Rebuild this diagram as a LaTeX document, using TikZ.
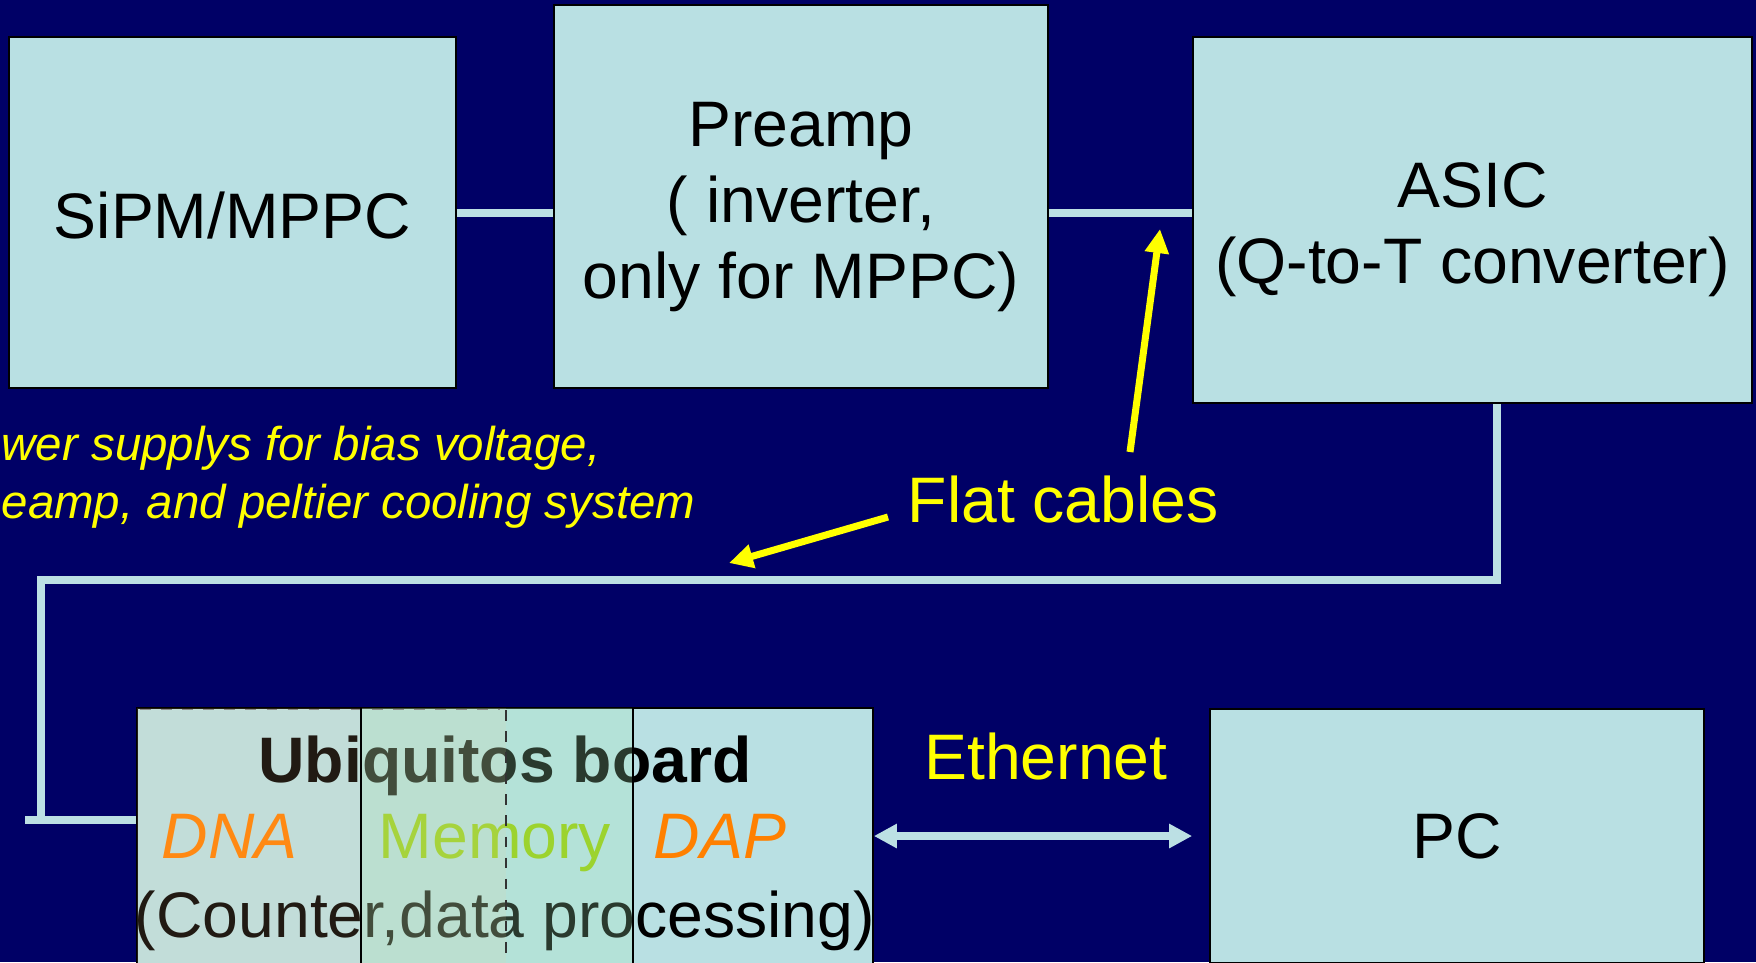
\documentclass[tikz,border=0pt]{standalone}
\usepackage{fontspec}
\setmainfont{Liberation Sans}
\usetikzlibrary{arrows.meta}
\definecolor{slidebg}{HTML}{000066}
\definecolor{boxfill}{HTML}{B9E0E3}
\definecolor{cablecol}{HTML}{BCE0E4}
\definecolor{notecol}{HTML}{FFFF00}
\definecolor{labelorange}{HTML}{FF8000}
\definecolor{labelgreen}{HTML}{99CC00}
\definecolor{tanlayer}{HTML}{FFCD96}
\definecolor{greenlayer}{HTML}{A8E8B8}
\newcommand{\bigtext}{\fontsize{18.3pt}{21.6pt}\selectfont}
\newcommand{\notetext}{\fontsize{13.5pt}{16.5pt}\selectfont\itshape}
\newcommand{\lowfirst}{\rule{0pt}{6.5mm}}
\tikzset{
  unit/.style={draw=black, line width=0.5pt, fill=boxfill, inner sep=0pt,
    align=center, font=\bigtext},
  cable/.style={cablecol, line width=0.8mm},
  pointer/.style={notecol, line width=0.7mm,
    -{Triangle[length=2.4mm, width=2.3mm]}},
  lanlink/.style={cablecol, line width=0.8mm,
    {Triangle[length=2.3mm, width=2.3mm]}-{Triangle[length=2.3mm, width=2.3mm]}},
  note/.style={inner sep=0pt, text=notecol, font=\notetext},
  yellowtag/.style={inner sep=0pt, text=notecol, font=\bigtext},
  boardtext/.style={inner sep=0pt, font=\bigtext}
}

\begin{document}
\begin{tikzpicture}[x=0.1mm, y=-0.1mm]
    \fill[slidebg] (0,0) rectangle (1756,962);
    \clip (0,0) rectangle (1756,962);

    \node[unit, minimum width=44.7mm, minimum height=35.1mm]
      (sipm) at (232.5,212.5) {\rule{0pt}{5.2mm}SiPM/MPPC};
    \node[unit, minimum width=49.4mm, minimum height=38.3mm]
      (preamp) at (801,196.5) {\lowfirst Preamp\\( inverter,\\only for MPPC)};
    \node[unit, minimum width=55.9mm, minimum height=36.6mm]
      (asic) at (1472.5,220) {\lowfirst ASIC\\(Q-to-T converter)};

    \draw[cable] (sipm.east) -- (sipm.east -| preamp.west);
    \draw[cable] (sipm.east -| preamp.east) -- (sipm.east -| asic.west);

    \coordinate (bendA) at (1497,580);
    \coordinate (bendB) at (41,580);
    \coordinate (bendC) at (41,820);
    \coordinate (lead) at (25,820);
    \draw[cable] (asic.south -| bendA) -- (bendA) -- (bendB) -- (bendC);

    \node[note, anchor=base west] (supplyA) at (1,460)
      {wer supplys for bias voltage,};
    \node[note, anchor=base west] (supplyB) at (1,518)
      {eamp, and peltier cooling system};

    \node[yellowtag, anchor=base west] (flat) at (907,522) {Flat cables};
    \coordinate (tailA) at (1130,452);
    \coordinate (tipA) at (1160,229);
    \coordinate (tailB) at (888,517);
    \coordinate (tipB) at (729,563);
    \draw[pointer] (tailA) -- (tipA);
    \draw[pointer] (tailB) -- (tipB);

    \node[unit, minimum width=73.6mm, minimum height=25.6mm]
      (board) at (505,836) {};
    \draw[cable] (lead) -- (lead -| board.west);

    \node[boardtext, anchor=base, font=\bigtext\bfseries] (title)
      at (505,782) {Ubiquitos board};
    \node[boardtext, anchor=base west, text=labelorange, font=\bigtext\itshape]
      (dna) at (161,858) {DNA};
    \node[boardtext, anchor=base west, text=labelgreen] (memory)
      at (378,858) {Memory};
    \node[boardtext, anchor=base west, text=labelorange, font=\bigtext\itshape]
      (dap) at (653,858) {DAP};
    \node[boardtext, anchor=base] (counter) at (505,937)
      {(Counter,data processing)};

    \fill[tanlayer, fill opacity=0.13] (137,708) rectangle (506,970);
    \fill[greenlayer, fill opacity=0.25] (361,708) rectangle (633,970);
    \draw[black!45, dashed, line width=0.3pt] (140,709.5) -- (500,709.5);
    \draw[black!80, dashed, line width=0.5pt] (506,710) -- (506,970);
    \draw[black, line width=0.5pt] (361,708) -- (361,970);
    \draw[black, line width=0.5pt] (633,708) -- (633,970);

    \node[unit, minimum width=49.4mm, minimum height=25.4mm]
      (pc) at (1457,836) {PC};
    \draw[lanlink] (board.east) -- ([xshift=-1.7mm]pc.west);
    \node[yellowtag, anchor=base] (ether) at (1046,779) {Ethernet};
  \end{tikzpicture}
\end{document}
